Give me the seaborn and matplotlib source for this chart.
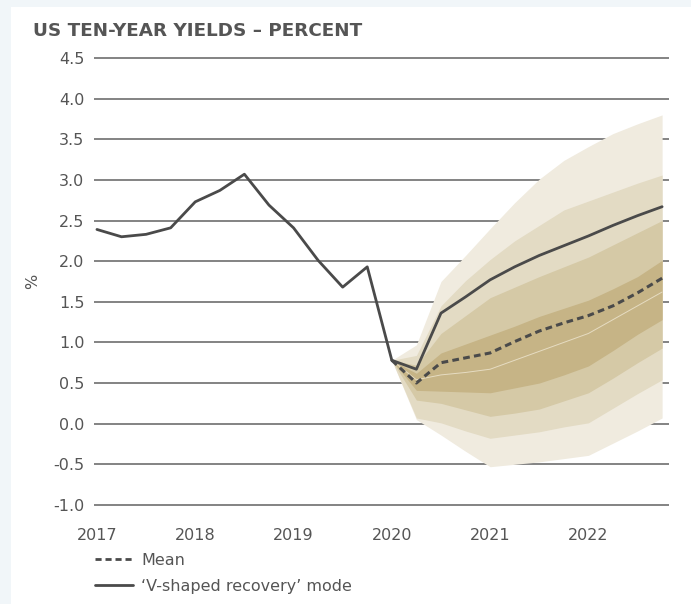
import numpy as np
import pandas as pd
import matplotlib.pyplot as plt
import seaborn as sns
from matplotlib.lines import Line2D
from matplotlib.patches import Rectangle

# historical yields, quarterly 2017Q1 - 2020Q1
hist_x = [2017.0, 2017.25, 2017.5, 2017.75, 2018.0, 2018.25, 2018.5,
          2018.75, 2019.0, 2019.25, 2019.5, 2019.75, 2020.0]
hist_y = [2.39, 2.30, 2.33, 2.41, 2.73, 2.87, 3.07, 2.69, 2.41, 2.01, 1.68, 1.93, 0.78]

# forecast, quarterly 2020Q1 - 2022Q4
fc_x = [2020.0, 2020.25, 2020.5, 2020.75, 2021.0, 2021.25, 2021.5, 2021.75,
        2022.0, 2022.25, 2022.5, 2022.75]
mean_y = [0.78, 0.50, 0.75, 0.81, 0.87, 1.01, 1.14, 1.24, 1.33, 1.45, 1.61, 1.79]
vmode_y = [0.78, 0.67, 1.36, 1.56, 1.77, 1.93, 2.07, 2.19, 2.31, 2.44, 2.56, 2.67]
median_y = [0.78, 0.54, 0.60, 0.63, 0.67, 0.78, 0.89, 1.00, 1.11, 1.28, 1.45, 1.62]

# fan bands (upper / lower edges, outer to inner)
outer_hi = [0.78, 0.97, 1.75, 2.07, 2.40, 2.72, 3.01, 3.24, 3.41, 3.57, 3.69, 3.80]
outer_lo = [0.78, 0.05, -0.14, -0.34, -0.53, -0.50, -0.47, -0.43, -0.39, -0.24, -0.09, 0.07]
mid2_hi = [0.78, 0.84, 1.45, 1.76, 2.02, 2.25, 2.44, 2.63, 2.74, 2.85, 2.96, 3.06]
mid2_lo = [0.78, 0.07, 0.01, -0.09, -0.18, -0.14, -0.10, -0.04, 0.01, 0.19, 0.37, 0.54]
mid1_hi = [0.78, 0.72, 1.11, 1.33, 1.55, 1.68, 1.81, 1.93, 2.05, 2.20, 2.35, 2.50]
mid1_lo = [0.78, 0.29, 0.25, 0.17, 0.09, 0.13, 0.18, 0.28, 0.38, 0.56, 0.75, 0.93]
inner_hi = [0.78, 0.62, 0.87, 0.98, 1.09, 1.20, 1.32, 1.42, 1.52, 1.66, 1.81, 2.01]
inner_lo = [0.78, 0.41, 0.40, 0.39, 0.38, 0.44, 0.50, 0.60, 0.71, 0.90, 1.10, 1.28]

year_ticks = [2017, 2018, 2019, 2020, 2021, 2022]
y_ticks = np.arange(-1.0, 4.51, 0.5)

sns.set_style("white")
plt.rcParams['font.family'] = ['DejaVu Sans']

fig = plt.figure(figsize=(6.91, 6.04), dpi=100, facecolor='#f1f6f9')
# white card
fig.add_artist(Rectangle((11 / 691, 0), 1, 1 - 7 / 604, transform=fig.transFigure,
                         facecolor='white', edgecolor='none', zorder=0))

ax = fig.add_axes([94 / 691, 0.160, 575 / 691, 0.748])
ax.set_facecolor('none')

text_col = '#555555'
line_col = '#4a4a4a'

# gridlines
for v in y_ticks:
    ax.axhline(v, color='#7a7a7a', lw=1.3, zorder=1)

# fan chart
bands = [(outer_lo, outer_hi, '#f0ebdf'),
         (mid2_lo, mid2_hi, '#e3dbc4'),
         (mid1_lo, mid1_hi, '#d5c9a6'),
         (inner_lo, inner_hi, '#c6b486')]
for lo, hi, c in bands:
    ax.fill_between(fc_x, lo, hi, color=c, lw=0, zorder=2)
ax.plot(fc_x, median_y, color='#e6dcc2', lw=0.7, zorder=3)

hist = pd.DataFrame({'x': hist_x, 'y': hist_y})
fc = pd.DataFrame({'x': fc_x, 'mean': mean_y, 'vmode': vmode_y})
sns.lineplot(data=hist, x='x', y='y', ax=ax, color=line_col, lw=2, zorder=4)
sns.lineplot(data=fc, x='x', y='vmode', ax=ax, color=line_col, lw=2, zorder=4)
sns.lineplot(data=fc, x='x', y='mean', ax=ax, color=line_col, lw=2.2,
             linestyle=(0, (2.2, 1.4)), zorder=4)

ax.set_xlim(2016.97, 2022.82)
ax.set_ylim(-1.03, 4.53)
ax.set_xticks(year_ticks)
ax.set_xticklabels([str(y) for y in year_ticks])
ax.set_yticks(y_ticks)
ax.set_yticklabels([f'{v:.1f}' for v in y_ticks])
ax.tick_params(axis='x', length=0, pad=15, labelsize=11.5, labelcolor=text_col)
ax.tick_params(axis='y', length=0, pad=7, labelsize=11.5, labelcolor=text_col)
ax.set_xlabel('')
ax.set_ylabel('%', fontsize=11.5, color=text_col)
ax.yaxis.set_label_coords(-0.094, 0.5)
sns.despine(ax=ax, left=True, bottom=True)

fig.text(33 / 691, 1 - 31 / 604, 'US TEN-YEAR YIELDS – PERCENT', fontsize=13.2,
         fontweight='bold', color=text_col, va='center', ha='left')

handles = [Line2D([], [], color=line_col, lw=2, linestyle=(0, (2.2, 1.4))),
           Line2D([], [], color=line_col, lw=2)]
fig.legend(handles, ['Mean', '‘V-shaped recovery’ mode'], loc='upper left',
           bbox_to_anchor=(95 / 691, 1 - 553 / 604), frameon=False, fontsize=11.5,
           labelcolor=text_col, handlelength=2.4, handletextpad=0.5,
           labelspacing=0.68, borderpad=0, borderaxespad=0)

fig.savefig('out.png', dpi=100, facecolor=fig.get_facecolor())
